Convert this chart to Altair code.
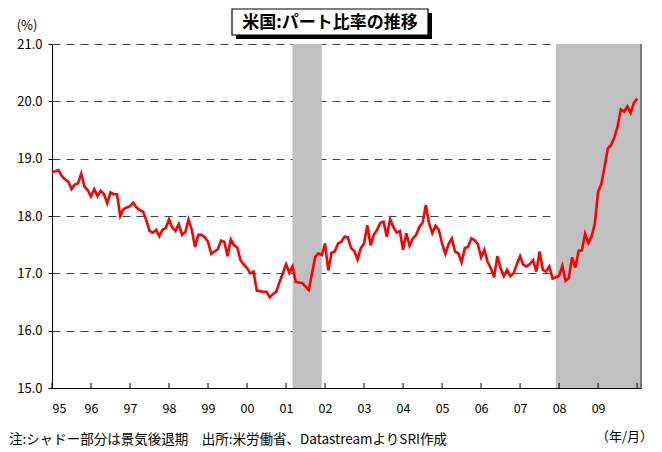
import altair as alt
import pandas as pd

# Monthly part-time ratio (%), Jan 1995 onward
values = [
    18.77, 18.78, 18.80, 18.70, 18.64, 18.60, 18.47, 18.55, 18.57, 18.74, 18.51, 18.45,
    18.34, 18.47, 18.35, 18.44, 18.38, 18.22, 18.41, 18.38, 18.38, 18.00, 18.12, 18.15,
    18.17, 18.23, 18.15, 18.10, 18.08, 17.93, 17.74, 17.71, 17.76, 17.65, 17.76, 17.79,
    17.94, 17.80, 17.74, 17.86, 17.67, 17.72, 17.94, 17.76, 17.46, 17.67, 17.67, 17.63,
    17.55, 17.34, 17.38, 17.42, 17.57, 17.55, 17.30, 17.59, 17.49, 17.45, 17.23, 17.15,
    17.09, 17.00, 17.03, 16.70, 16.69, 16.68, 16.68, 16.58, 16.64, 16.68, 16.85, 17.00,
    17.16, 17.01, 17.12, 16.85, 16.84, 16.83, 16.77, 16.71, 17.00, 17.29, 17.35, 17.32,
    17.52, 17.05, 17.36, 17.38, 17.52, 17.55, 17.64, 17.63, 17.44, 17.39, 17.24, 17.44,
    17.52, 17.84, 17.49, 17.67, 17.76, 17.88, 17.90, 17.64, 17.94, 17.81, 17.71, 17.74,
    17.41, 17.70, 17.48, 17.61, 17.67, 17.81, 17.88, 18.19, 17.87, 17.70, 17.83, 17.76,
    17.52, 17.34, 17.51, 17.61, 17.38, 17.35, 17.19, 17.44, 17.46, 17.61, 17.58, 17.51,
    17.28, 17.41, 17.20, 17.09, 16.93, 17.30, 17.09, 16.95, 17.06, 16.95, 17.00, 17.16,
    17.30, 17.15, 17.12, 17.16, 17.23, 17.03, 17.38, 17.06, 17.03, 17.12, 16.91, 16.93,
    16.96, 17.13, 16.87, 16.92, 17.28, 17.10, 17.39, 17.40, 17.69, 17.53, 17.64, 17.87,
    18.42, 18.56, 18.86, 19.18, 19.24, 19.37, 19.56, 19.86, 19.82, 19.91, 19.80, 19.97,
    20.05,
]
month_index = list(range(len(values)))
time_pos = [1995 + m / 12 for m in month_index]

recession_start = [2001 + 2 / 12, 2007 + 11 / 12]
recession_end = [2001 + 11 / 12, 2010.1]

year_ticks = list(range(1995, 2011))
year_labels = list(range(1995, 2010))
y_ticks = [15, 16, 17, 18, 19, 20, 21]

title_text = "米国:パート比率の推移"
unit_text = "(%)"
note_text = "注:シャドー部分は景気後退期　出所:米労働省、DatastreamよりSRI作成"
xunit_text = "（年/月）"

FONT = "Noto Sans CJK JP"
W, H = 589, 344

df_line = pd.DataFrame({"t": time_pos, "v": values})
df_band = pd.DataFrame({"start": recession_start, "end": recession_end})
df_ticks = pd.DataFrame({"yr": year_ticks})
one = pd.DataFrame({"a": [0]})

x_scale = alt.Scale(domain=[1995, 2010.1], nice=False, zero=False)
y_scale = alt.Scale(domain=[15, 21], nice=False, zero=False)

x_axis = alt.Axis(
    values=year_labels,
    labelExpr="(datum.value % 100 < 10 ? '0' : '') + (datum.value % 100)",
    title=None, ticks=False, grid=False, domainColor="black", domainWidth=1,
    labelPadding=14, labelFontSize=12.5, labelColor="black", labelFont=FONT, zindex=1,
)
y_axis = alt.Axis(
    values=y_ticks, format=".1f", title=None, tickSize=4, tickColor="black",
    domainColor="black", domainWidth=1, grid=True, gridDash=[8, 6], gridColor="#444444",
    gridWidth=1, labelPadding=6, labelFontSize=13, labelColor="black", labelFont=FONT,
    zindex=0,
)

band = alt.Chart(df_band).mark_rect(color="#C0C0C0").encode(
    x=alt.X("start:Q", scale=x_scale, axis=x_axis),
    x2="end:Q",
    y=alt.value(0),
    y2=alt.value(H),
)

edge = alt.Chart(df_band.tail(1)).mark_rule(color="#7a7a7a", strokeWidth=2).encode(
    x=alt.X("end:Q", scale=x_scale),
    y=alt.value(0),
    y2=alt.value(H),
)

line = alt.Chart(df_line).mark_line(color="#FF0000", strokeWidth=2.6).encode(
    x=alt.X("t:Q", scale=x_scale),
    y=alt.Y("v:Q", scale=y_scale, axis=y_axis),
)

ticks = alt.Chart(df_ticks).mark_rule(color="black", strokeWidth=1).encode(
    x=alt.X("yr:Q", scale=x_scale),
    y=alt.value(H - 5),
    y2=alt.value(H),
)

shadow = alt.Chart(one).mark_rect(color="black").encode(
    x=alt.value(184), x2=alt.value(380), y=alt.value(-31), y2=alt.value(-5)
)
box = alt.Chart(one).mark_rect(fill="white", stroke="black", strokeWidth=1.2).encode(
    x=alt.value(180), x2=alt.value(376), y=alt.value(-35), y2=alt.value(-9)
)
title = alt.Chart(one).mark_text(
    text=title_text, font=FONT, fontSize=17, fontWeight="bold", color="black",
    align="center", baseline="middle",
).encode(x=alt.value(278), y=alt.value(-21))

unit = alt.Chart(one).mark_text(
    text=unit_text, font=FONT, fontSize=13, color="black", align="center", baseline="middle"
).encode(x=alt.value(-25), y=alt.value(-18))

note = alt.Chart(one).mark_text(
    text=note_text, font=FONT, fontSize=13.5, color="black", align="left", baseline="middle"
).encode(x=alt.value(-43), y=alt.value(396))

xunit = alt.Chart(one).mark_text(
    text=xunit_text, font=FONT, fontSize=13, color="black", align="right", baseline="middle"
).encode(x=alt.value(601), y=alt.value(393))

chart = alt.layer(
    band, edge, line, ticks, shadow, box, title, unit, note, xunit
).properties(
    width=W, height=H,
    autosize=alt.AutoSizeParams(type="none"),
    padding={"left": 44, "top": 36, "right": 13, "bottom": 60},
    background="white",
).configure_view(stroke=None)

chart.save("out.html", embed_options={"renderer": "svg", "actions": False})
